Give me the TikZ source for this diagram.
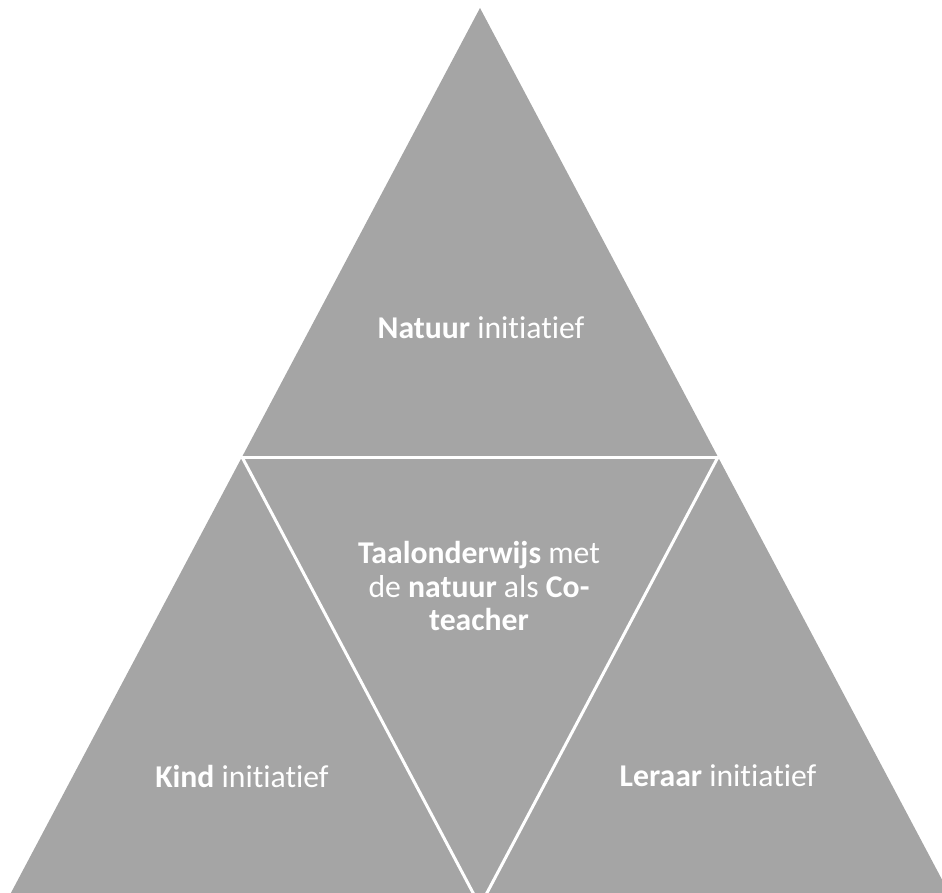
\documentclass[tikz,border=0pt]{standalone}
\usepackage{fontspec}
\setmainfont[Ligatures={NoCommon}]{Carlito}
\definecolor{trigray}{HTML}{A5A5A5}
\begin{document}
\begin{tikzpicture}[x=1pt,y=-1pt,
  lbl/.style={text=white,font=\fontsize{31.7}{33.5}\selectfont,align=center,inner sep=0pt},
  sep/.style={draw=white,line width=3pt}]
\useasboundingbox (0,0) rectangle (942,893);
\clip (0,0) rectangle (942,893);
\coordinate (A) at (480,8);
\coordinate (B) at (242,457);
\coordinate (C) at (718,457);
\coordinate (D) at (4,906);
\coordinate (E) at (956,906);
\coordinate (F) at (480,906);
\fill[trigray] (A) -- (D) -- (E) -- cycle;
\draw[sep] (B) -- (C);
\draw[sep] (B) -- (F);
\draw[sep] (C) -- (F);
\node[lbl] (top) at (481,328) {\textbf{Natuur} initiatief};
\node[lbl] (mid) at (479,586) {\textbf{Taalonderwijs} met\\de \textbf{natuur} als \textbf{Co-}\\\textbf{teacher}};
\node[lbl] (left) at (242,776) {\textbf{Kind} initiatief};
\node[lbl] (right) at (718,776) {\textbf{Leraar} initiatief};
\end{tikzpicture}
\end{document}
